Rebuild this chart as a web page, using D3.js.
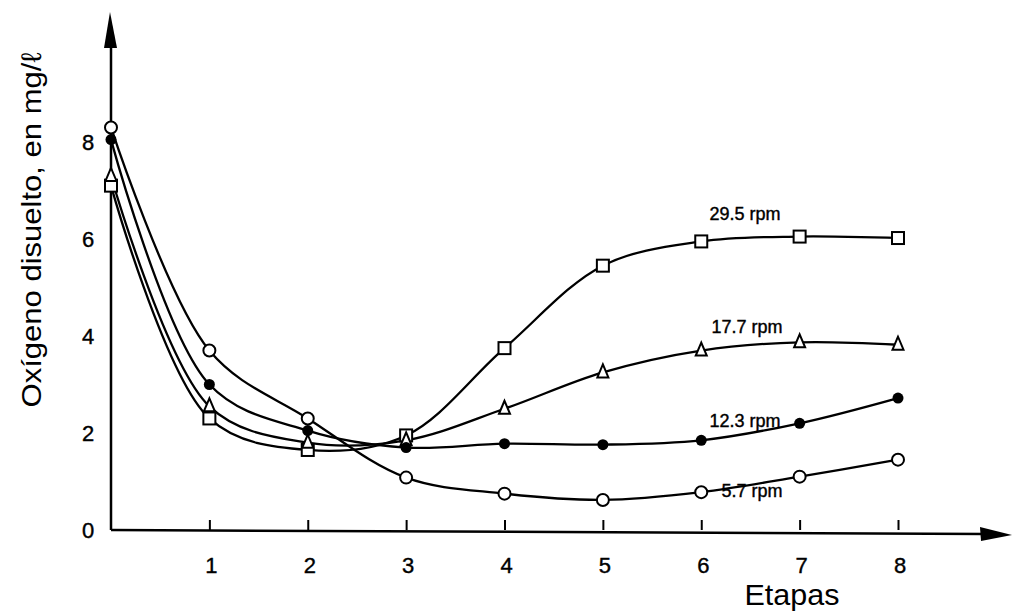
<!DOCTYPE html>
<html><head><meta charset="utf-8">
<script src="https://cdn.jsdelivr.net/npm/d3@7"></script>
<style>
html,body{margin:0;padding:0;background:#fff;}
svg{display:block;font-family:"Liberation Sans","DejaVu Sans",sans-serif;}
</style></head>
<body>
<script>
const stages = [0,1,2,3,4,5,6,7,8];
const xTickLabels = ["1","2","3","4","5","6","7","8"];
const yTickLabels = [0,2,4,6,8];
const seriesNames = ["29.5 rpm","17.7 rpm","12.3 rpm","5.7 rpm"];
const rpm295 = [7.1, 2.3, 1.65, 1.95, 3.75, 5.45, 5.95, 6.05, 6.02];
const rpm177 = [7.3, 2.55, 1.8, 1.85, 2.5, 3.25, 3.7, 3.87, 3.82];
const rpm123 = [8.05, 3.0, 2.05, 1.7, 1.78, 1.76, 1.85, 2.2, 2.72];
const rpm57  = [8.3, 3.7, 2.3, 1.08, 0.75, 0.62, 0.78, 1.1, 1.45];
const markerTypes = ["square","triangle","filled","circle"];

const W=1013,H=616;
const svg=d3.select("body").append("svg").attr("width",W).attr("height",H);
const x=d3.scaleLinear().domain([0,8]).range([111,898]);
const y=d3.scaleLinear().domain([0,8]).range([530,142]);

// axes
const xAxis=d3.axisTop(x).tickValues([1,2,3,4,5,6,7,8]).tickSize(10).tickFormat("");
const gx=svg.append("g").attr("transform","translate(0,"+y(0)+")").call(xAxis);
gx.select(".domain").remove();
gx.selectAll("line").attr("stroke","#000").attr("stroke-width",2);
const yAxis=d3.axisRight(y).tickValues([2,3,4,8]).tickSize(d=>d===3?8:16).tickFormat("");
const gy=svg.append("g").attr("transform","translate("+x(0)+",0)").call(yAxis);
gy.select(".domain").remove();
gy.selectAll("line").attr("stroke","#000").attr("stroke-width",2);

svg.append("line").attr("x1",x(0)).attr("y1",y(0)).attr("x2",985).attr("y2",y(0)+4).attr("stroke","#000").attr("stroke-width",2.5);
svg.append("path").attr("d",`M1012,${y(0)+5} L980,${y(0)-3} L981,${y(0)+11} Z`).attr("fill","#000");
svg.append("line").attr("x1",x(0)).attr("y1",y(0)).attr("x2",x(0)).attr("y2",40).attr("stroke","#000").attr("stroke-width",2.5);
svg.append("path").attr("d",`M${x(0)-1},12 L${x(0)-7},48 L${x(0)+6},48 Z`).attr("fill","#000");

// tick labels
svg.append("g").selectAll("text").data(xTickLabels).join("text")
  .attr("x",(d,i)=>x(i+1)+2).attr("y",573).attr("text-anchor","middle")
  .attr("font-size",22).attr("stroke","#000").attr("stroke-width",0.4).text(d=>d);
svg.append("g").selectAll("text").data(yTickLabels).join("text")
  .attr("x",88).attr("y",d=>y(d)+8).attr("text-anchor","middle")
  .attr("font-size",22).attr("stroke","#000").attr("stroke-width",0.4).text(d=>d);

svg.append("text").attr("x",792).attr("y",605).attr("text-anchor","middle").attr("font-size",29).attr("textLength",95).attr("lengthAdjust","spacingAndGlyphs").text("Etapas");
svg.append("text").attr("transform","translate(41,230) rotate(-90)").attr("text-anchor","middle").attr("font-size",28).attr("textLength",355).attr("lengthAdjust","spacingAndGlyphs").text("Oxígeno disuelto, en mg/ℓ");

// series
const allSeries=[rpm295,rpm177,rpm123,rpm57];
const line=d3.line().x((d,i)=>x(stages[i])).y(d=>y(d)).curve(d3.curveCatmullRom.alpha(0.5));
allSeries.forEach((s,k)=>{
  svg.append("path").attr("d",line(s)).attr("fill","none").attr("stroke","#000").attr("stroke-width",2.3);
});
allSeries.forEach((s,k)=>{
  const t=markerTypes[k];
  const g=svg.append("g");
  s.forEach((v,i)=>{
    const cx=x(stages[i]),cy=y(v);
    if(t==="square") g.append("rect").attr("x",cx-6).attr("y",cy-6).attr("width",12).attr("height",12).attr("fill","#fff").attr("stroke","#000").attr("stroke-width",2);
    else if(t==="triangle") g.append("path").attr("d",`M${cx},${cy-8} L${cx-5.5},${cy+5} L${cx+5.5},${cy+5} Z`).attr("fill","#fff").attr("stroke","#000").attr("stroke-width",2);
    else if(t==="filled") g.append("circle").attr("cx",cx).attr("cy",cy).attr("r",5.5).attr("fill","#000");
    else g.append("circle").attr("cx",cx).attr("cy",cy).attr("r",6).attr("fill","#fff").attr("stroke","#000").attr("stroke-width",2);
  });
});

// series labels
const labelPos=[[745,220],[747,333],[745,427],[752,497]];
svg.append("g").selectAll("text").data(seriesNames).join("text")
  .attr("x",(d,i)=>labelPos[i][0]).attr("y",(d,i)=>labelPos[i][1]).attr("text-anchor","middle")
  .attr("font-size",18).attr("stroke","#000").attr("stroke-width",0.4).text(d=>d);
</script>
</body></html>
